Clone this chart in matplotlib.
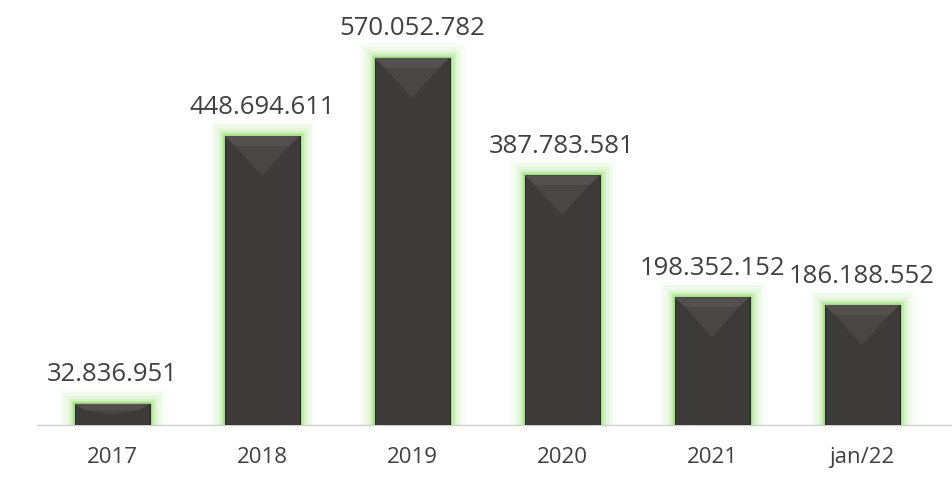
import matplotlib
matplotlib.use("Agg")
import matplotlib.pyplot as plt
from matplotlib.patches import Polygon

categories = ["2017", "2018", "2019", "2020", "2021", "jan/22"]
values = [32836951, 448694611, 570052782, 387783581, 198352152, 186188552]
labels = ["32.836.951", "448.694.611", "570.052.782", "387.783.581", "198.352.152", "186.188.552"]

plt.rcParams['font.family'] = ['Open Sans', 'DejaVu Sans']
fig = plt.figure(figsize=(9.52, 4.86), dpi=100)
ax = fig.add_axes([37/952, 1-425/486, 915/952, 425/486])
x = list(range(len(categories)))
w = 0.5
ax.set_xlim(-0.5, 5.6)
ax.set_ylim(0, 660e6)

# glow
for lw, a in [(22, 0.06), (17, 0.09), (12, 0.14), (8, 0.22), (5, 0.35), (3, 0.55)]:
    ax.bar(x, values, width=w, color='none', edgecolor='#9be27a', linewidth=lw, alpha=a, zorder=1)
bars = ax.bar(x, values, width=w, color='#3d3a3a', edgecolor='#2c2a2a', linewidth=0.8, zorder=3)

ymax = ax.get_ylim()[1]
px = ymax / 425
for xi, v in zip(x, values):
    l, r = xi - w/2, xi + w/2
    b = min(10 * px, v * 0.3)
    top = Polygon([(l, v), (r, v), (r - 0.07, v - b), (l + 0.07, v - b)], closed=True,
                  facecolor='#545050', edgecolor='none', zorder=4)
    ax.add_patch(top)
    depth = min(40 * px, v * 0.5)
    tri = Polygon([(l + 0.07, v - b), (r - 0.07, v - b), (xi, v - depth)],
                  closed=True, facecolor='#4a4646', edgecolor='none', zorder=4)
    ax.add_patch(tri)
    ax.text(xi, v + 29 * px, labels[xi], ha='center', va='center',
            fontsize=18.5, color='#404040', zorder=5)

ax.set_xticks(x)
ax.set_xticklabels(categories, fontsize=16, color='#404040')
ax.tick_params(axis='x', length=0, pad=16)
ax.set_yticks([])
for s in ['top', 'right', 'left']:
    ax.spines[s].set_visible(False)
ax.spines['bottom'].set_color('#d0d0d0')
ax.spines['bottom'].set_linewidth(1)
fig.savefig('out.png', dpi=100)
